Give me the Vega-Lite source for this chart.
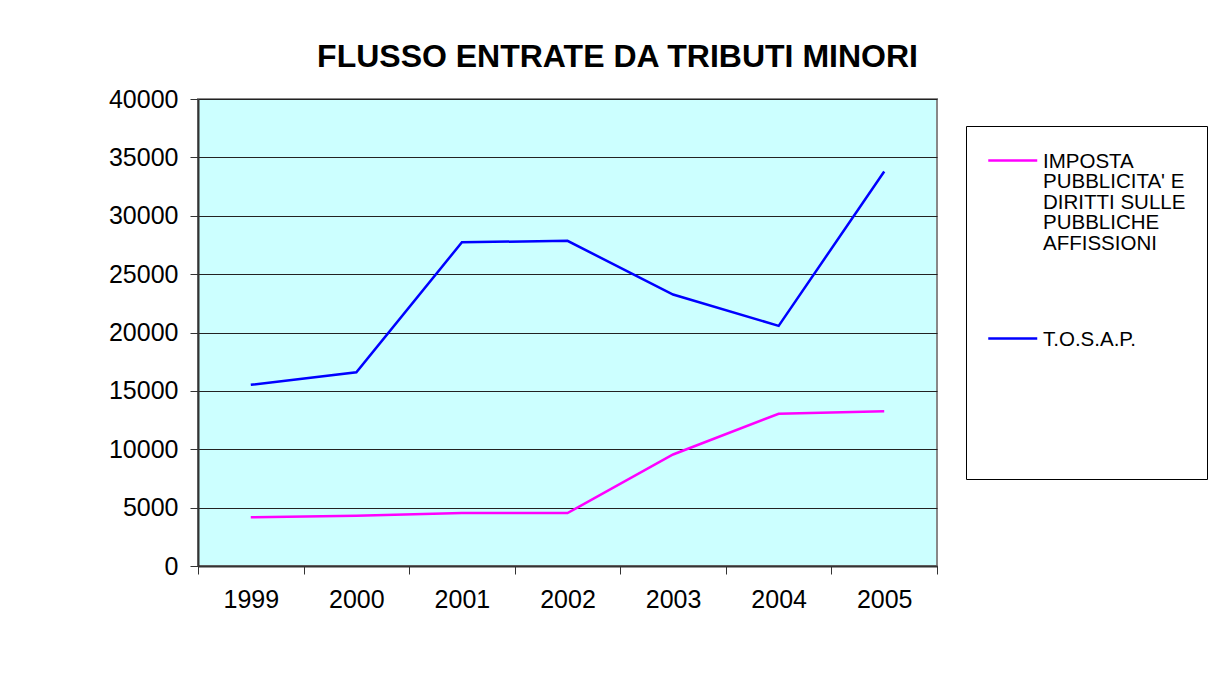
{
  "$schema": "https://vega.github.io/schema/vega-lite/v6.json",
  "autosize": "none",
  "width": 739,
  "height": 467,
  "padding": {"left": 198, "top": 99, "right": 286, "bottom": 120},
  "background": "white",
  "title": {
    "text": "FLUSSO ENTRATE DA TRIBUTI MINORI",
    "font": "Liberation Sans",
    "fontSize": 32,
    "fontWeight": "bold",
    "color": "black",
    "anchor": "middle",
    "dx": 50,
    "dy": 41,
    "offset": 29,
    "baseline": "alphabetic"
  },
  "data": {
    "values": [
      {"anno": "1999", "serie": "IMPOSTA PUBBLICITA' E DIRITTI SULLE PUBBLICHE AFFISSIONI", "valore": 4180},
      {"anno": "2000", "serie": "IMPOSTA PUBBLICITA' E DIRITTI SULLE PUBBLICHE AFFISSIONI", "valore": 4300},
      {"anno": "2001", "serie": "IMPOSTA PUBBLICITA' E DIRITTI SULLE PUBBLICHE AFFISSIONI", "valore": 4550},
      {"anno": "2002", "serie": "IMPOSTA PUBBLICITA' E DIRITTI SULLE PUBBLICHE AFFISSIONI", "valore": 4530},
      {"anno": "2003", "serie": "IMPOSTA PUBBLICITA' E DIRITTI SULLE PUBBLICHE AFFISSIONI", "valore": 9550},
      {"anno": "2004", "serie": "IMPOSTA PUBBLICITA' E DIRITTI SULLE PUBBLICHE AFFISSIONI", "valore": 13040},
      {"anno": "2005", "serie": "IMPOSTA PUBBLICITA' E DIRITTI SULLE PUBBLICHE AFFISSIONI", "valore": 13260},
      {"anno": "1999", "serie": "T.O.S.A.P.", "valore": 15520},
      {"anno": "2000", "serie": "T.O.S.A.P.", "valore": 16600},
      {"anno": "2001", "serie": "T.O.S.A.P.", "valore": 27730},
      {"anno": "2002", "serie": "T.O.S.A.P.", "valore": 27850},
      {"anno": "2003", "serie": "T.O.S.A.P.", "valore": 23250},
      {"anno": "2004", "serie": "T.O.S.A.P.", "valore": 20570},
      {"anno": "2005", "serie": "T.O.S.A.P.", "valore": 33790}
    ]
  },
  "mark": {"type": "line", "strokeWidth": 2.5},
  "encoding": {
    "x": {
      "field": "anno",
      "type": "ordinal",
      "scale": {"type": "band", "paddingInner": 0, "paddingOuter": 0},
      "axis": {
        "title": null,
        "labelAngle": 0,
        "tickBand": "extent",
        "tickSize": 8,
        "tickColor": "#333",
        "labelPadding": 13,
        "labelFontSize": 25,
        "labelFont": "Liberation Sans",
        "labelColor": "black",
        "domainColor": "#333",
        "domainWidth": 2,
        "grid": false
      }
    },
    "y": {
      "field": "valore",
      "type": "quantitative",
      "scale": {"domain": [0, 40000], "nice": false},
      "axis": {
        "title": null,
        "values": [0, 5000, 10000, 15000, 20000, 25000, 30000, 35000, 40000],
        "format": "d",
        "tickSize": 8,
        "tickColor": "#333",
        "labelPadding": 12,
        "labelFontSize": 25,
        "labelFont": "Liberation Sans",
        "labelColor": "black",
        "domainColor": "#333",
        "domainWidth": 2,
        "grid": true,
        "gridColor": "#222",
        "gridWidth": 1
      }
    },
    "color": {
      "field": "serie",
      "type": "nominal",
      "scale": {
        "domain": ["IMPOSTA PUBBLICITA' E DIRITTI SULLE PUBBLICHE AFFISSIONI", "T.O.S.A.P."],
        "range": ["#FF00FF", "#0000FF"]
      },
      "legend": {
        "title": null,
        "orient": "none",
        "legendX": 768,
        "legendY": 27,
        "padding": 21,
        "strokeColor": "black",
        "fillColor": "white",
        "symbolType": "M-1,0H3",
        "symbolSize": 600,
        "symbolStrokeWidth": 2.5,
        "labelFont": "Liberation Sans",
        "labelFontSize": 20.5,
        "labelColor": "black",
        "labelLimit": 300,
        "labelOffset": 29,
        "labelBaseline": "top",
        "rowPadding": 71,
        "labelExpr": "datum.label == 'T.O.S.A.P.' ? ['T.O.S.A.P.', '', '', '', '', ''] : ['IMPOSTA', \"PUBBLICITA' E\", 'DIRITTI SULLE', 'PUBBLICHE', 'AFFISSIONI']",
        "encode": {"labels": {"update": {"dy": {"value": -9}, "fontSize": {"value": 20.5}, "lineHeight": {"signal": "datum.label == 'T.O.S.A.P.' ? 21.5 : 20.5"}}}}
      }
    }
  },
  "config": {
    "view": {"fill": "#CCFFFF", "stroke": "#888", "strokeWidth": 2}
  }
}
